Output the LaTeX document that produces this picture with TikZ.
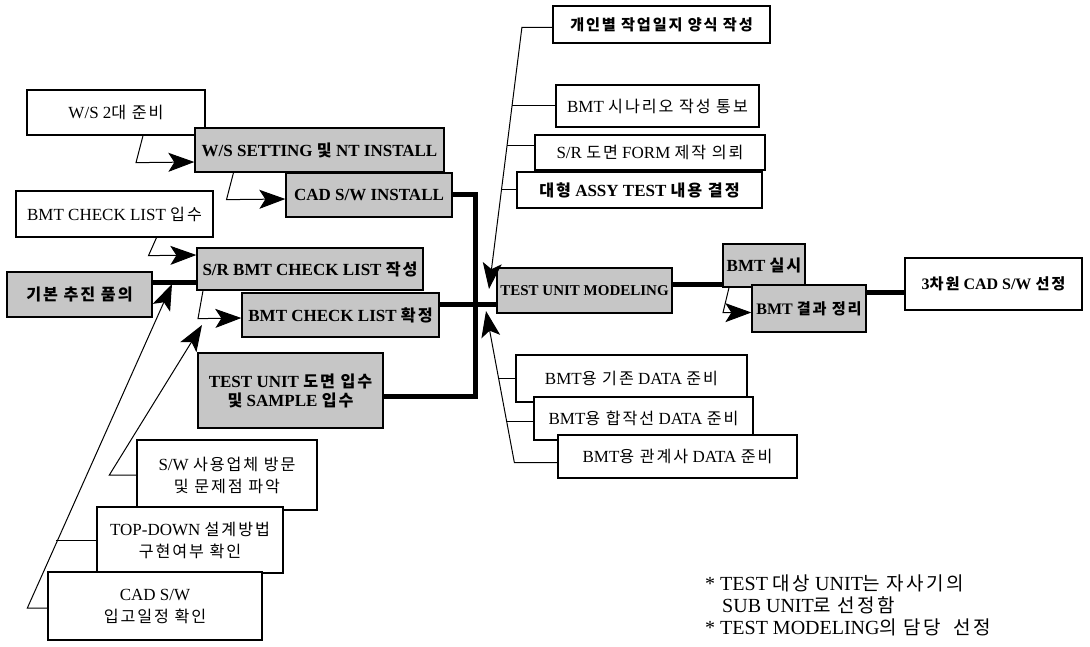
\documentclass[tikz,border=0pt]{standalone}
\usepackage{fontspec}
\setmainfont{Liberation Serif}
\newfontfamily\krfont[Scale=0.95,LetterSpace=12]{Noto Sans CJK KR}
\newcommand\ko[1]{{\krfont #1}}
\usetikzlibrary{arrows.meta}

\begin{document}
\begin{tikzpicture}[x=1pt, y=-1pt]
    \tikzset{box/.style={draw, line width=1.3pt, inner sep=2pt, align=center},
        wh/.style 2 args={minimum width=#1pt, minimum height=#2pt},
        whitebox/.style={box, fill=white, font=\fontsize{17}{22}\selectfont},
        graybox/.style={box, fill=gray!45, font=\fontsize{17}{19}\selectfont\bfseries},
        thickline/.style={line width=5pt},
        thinline/.style={line width=1pt},
        arr/.style={thinline, -{Stealth[length=26pt, width=19pt, inset=6pt]}},
        note/.style={anchor=base west, inner sep=0pt, font=\fontsize{20}{22}\selectfont}}
    \fill[white] (0,0) rectangle (1090,647);
    \useasboundingbox (0,0) rectangle (1090,647);

    \node[whitebox, wh={178}{45}] (wsprep) at (116,112.5) {W/S 2\ko{대 준비}};
    \node[graybox, wh={249}{44}] (wsset) at (319.5,150) {W/S SETTING \ko{및} NT INSTALL};
    \node[graybox, wh={166}{44}] (cadinst) at (369,195) {CAD S/W INSTALL};
    \node[whitebox, wh={197}{46}] (chkget) at (114.5,214) {BMT CHECK LIST \ko{입수}};
    \node[graybox, wh={226}{42}] (chkmake) at (310,269) {S/R BMT CHECK LIST \ko{작성}};
    \node[graybox, wh={145}{45}] (basic) at (79.5,294.5) {\ko{기본 추진 품의}};
    \node[graybox, wh={197}{44}] (chkfix) at (340.5,315) {BMT CHECK LIST \ko{확정}};
    \node[graybox, wh={185}{75}] (drawing) at (290.5,390.5) {TEST UNIT \ko{도면 입수}\\\ko{및} SAMPLE \ko{입수}};
    \node[whitebox, wh={180}{70}] (visit) at (227,475) {S/W \ko{사용업체 방문}\\\ko{및 문제점 파악}};
    \node[whitebox, wh={186}{66}] (topdown) at (190,540) {TOP-DOWN \ko{설계방법}\\\ko{구현여부 확인}};
    \node[whitebox, wh={214}{68}] (caddate) at (155,606) {CAD S/W\\\ko{입고일정 확인}};

    \node[whitebox, wh={217}{37}, line width=2.2pt, font=\fontsize{16}{19}\selectfont\bfseries] (diary) at (661.5,24.5) {\ko{개인별 작업일지 양식 작성}};
    \node[whitebox, wh={203}{42}] (scen) at (657.5,106) {BMT \ko{시나리오 작성 통보}};
    \node[whitebox, wh={230}{35}] (form) at (650,152.5) {S/R \ko{도면} FORM \ko{제작 의뢰}};
    \node[whitebox, wh={245}{36}, font=\fontsize{17}{19}\selectfont\bfseries] (assy) at (639.5,190) {\ko{대형} ASSY TEST \ko{내용 결정}};
    \node[graybox, wh={175}{45}, font=\fontsize{15}{18}\selectfont\bfseries] (model) at (584.5,290.5) {TEST UNIT MODELING};
    \node[graybox, wh={82}{43}] (bmtrun) at (764,265.5) {BMT \ko{실시}};
    \node[graybox, wh={114}{47}, font=\fontsize{16}{19}\selectfont\bfseries] (bmtres) at (809,308.5) {BMT \ko{결과 정리}};
    \node[whitebox, wh={177}{52}, font=\fontsize{16}{19}\selectfont\bfseries] (select) at (993.5,284) {3\ko{차원} CAD S/W \ko{선정}};
    \node[whitebox, wh={231}{47}] (data1) at (631.5,378.5) {BMT\ko{용 기존} DATA \ko{준비}};
    \node[whitebox, wh={219}{43}] (data2) at (643.5,418.5) {BMT\ko{용 합작선} DATA \ko{준비}};
    \node[whitebox, wh={239}{43}] (data3) at (677.5,456.5) {BMT\ko{용 관계사} DATA \ko{준비}};

    \node[note] (note1) at (705,590) {* TEST \ko{대상} UNIT\ko{는 자사기의}};
    \node[note] (note2) at (722,612) {SUB UNIT\ko{로 선정함}};
    \node[note] (note3) at (705,634) {* TEST MODELING\ko{의 담당\ \ 선정}};

    \coordinate (joinA) at (172,284);
    \coordinate (joinB) at (202,325);
    \coordinate (tipT) at (489,289);
    \coordinate (tipB) at (486,311);

    \draw[arr] ([xshift=27pt]wsprep.south) -- ++(-7,27) -- ([yshift=-12pt]wsset.west);
    \draw[arr] ([xshift=-86pt]wsset.south) -- ++(-7,27) -- ([yshift=-4pt]cadinst.west);
    \draw[arr] ([xshift=42pt]chkget.south) -- ++(-8,18) -- ([yshift=14pt]chkmake.west);
    \draw[arr] ([xshift=-107pt]chkmake.south) -- ++(-5,28) -- ([yshift=-3pt]chkfix.west);
    \draw[thickline] ([yshift=12pt]basic.east) -- ([yshift=12pt]basic.east -| chkmake.west);
    \draw[arr] ([yshift=-2pt]caddate.west) -- ++(-20,0) -- (joinA);
    \draw[thinline] (topdown.west) -- ++(-40,0);
    \draw[arr] (visit.west) -- ++(-27,0) -- (joinB);
    \draw[thickline] (cadinst.east) -- ++(23,0) |- ([yshift=-6pt]drawing.east);
    \draw[thickline] ([yshift=11pt]chkfix.east) -- ([yshift=11pt]chkfix.east -| model.west);

    \draw[arr] ([yshift=-3pt]diary.west) -- ++(-30,0) -- (tipT);
    \draw[thinline] (scen.west) -- ++(-43,0);
    \draw[thinline] ([yshift=7pt]form.west) -- ++(-27,0);
    \draw[thinline] (assy.west) -- ++(-15,0);
    \draw[arr] ([yshift=-6pt]data3.west) -- ++(-43,0) -- (tipB);
    \draw[thinline] (data1.west) -- ++(-17,0);
    \draw[thinline] ([yshift=-3pt]data2.west) -- ++(-27,0);

    \draw[thickline] ([yshift=6pt]model.east) -- ([yshift=6pt]model.east -| bmtrun.west);
    \draw[arr] ([xshift=-35pt]bmtrun.south) -- ++(-6,25) -- ([yshift=-4pt]bmtres.west);
    \draw[thickline] ([yshift=16pt]bmtres.east) -- ([yshift=16pt]bmtres.east -| select.west);
\end{tikzpicture}
\end{document}
